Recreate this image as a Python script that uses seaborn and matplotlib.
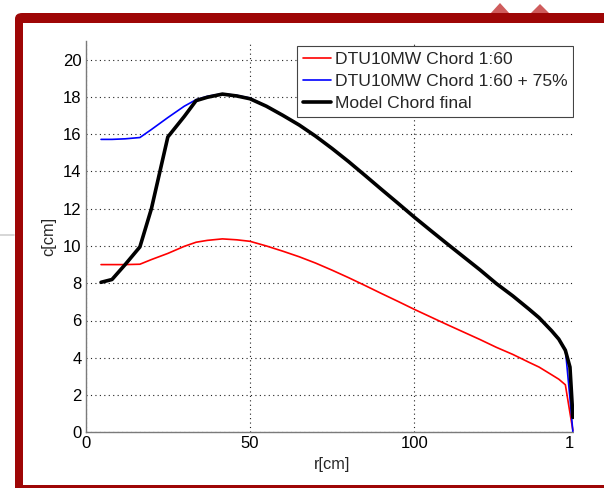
import matplotlib
matplotlib.use("Agg")
import matplotlib.pyplot as plt
from matplotlib.patches import Rectangle, FancyBboxPatch, Polygon
from matplotlib.lines import Line2D
import seaborn as sns
import pandas as pd

# ---- data ----
r_cm = [4.67, 8, 12, 16.5, 20, 25, 30, 33.6, 37, 41.6, 46, 50, 55, 60, 65, 70, 75,
        80, 85, 90, 95, 100, 105, 110, 115, 120, 125, 130, 135, 138, 141.8, 144,
        146, 147.4, 148.3]
chord_dtu = [9.0, 9.0, 9.0, 9.02, 9.27, 9.6, 9.98, 10.2, 10.3, 10.38, 10.33, 10.25,
             10.0, 9.72, 9.42, 9.08, 8.7, 8.3, 7.88, 7.45, 7.03, 6.6, 6.19, 5.78,
             5.38, 4.98, 4.56, 4.18, 3.75, 3.5, 3.09, 2.85, 2.55, 1.04, 0.1]
chord_dtu75 = [15.72, 15.72, 15.75, 15.82, 16.25, 16.89, 17.5, 17.85, 18.03, 18.17,
               18.08, 17.94, 17.5, 17.01, 16.49, 15.89, 15.23, 14.53, 13.79, 13.04,
               12.3, 11.55, 10.83, 10.12, 9.42, 8.72, 7.98, 7.32, 6.56, 6.13, 5.41,
               4.99, 4.46, 1.82, 0.0]
chord_model = [8.05, 8.2, 9.0, 9.95, 12.0, 15.85, 16.95, 17.8, 17.98, 18.15, 18.05,
               17.9, 17.5, 17.01, 16.49, 15.89, 15.23, 14.53, 13.79, 13.04, 12.3,
               11.55, 10.83, 10.12, 9.42, 8.72, 7.98, 7.32, 6.6, 6.15, 5.45, 5.0,
               4.4, 3.5, 0.8]
labels = ["DTU10MW Chord 1:60", "DTU10MW Chord 1:60 + 75%", "Model Chord final"]
x_ticks = [0, 50, 100, 150]
y_ticks = [0, 2, 4, 6, 8, 10, 12, 14, 16, 18, 20]

sns.set_style("white")
plt.rcParams["font.family"] = ["Liberation Sans", "DejaVu Sans"]

W, H = 604, 488
fig = plt.figure(figsize=(W / 100, H / 100), dpi=100)

def fx(px):
    return px / W

def fy(py):
    return 1 - py / H

# slide decoration above the frame (top right)
for pts in ([(490, 14), (500, 3), (510, 14)], [(530, 14), (540, 4), (550, 14)]):
    fig.add_artist(Polygon([(fx(a), fy(b)) for a, b in pts], closed=True,
                           transform=fig.transFigure, facecolor="#cf5c5c",
                           edgecolor="none", zorder=-4))
fig.add_artist(Line2D([0, fx(14)], [fy(235), fy(235)], transform=fig.transFigure,
                      color="#d0d0d0", linewidth=1.2, zorder=-4))

# slide frame (dark red) with white inside
outer = FancyBboxPatch((fx(15), fy(500)), fx(640) - fx(15), fy(13) - fy(500),
                       boxstyle="round,pad=0,rounding_size=0.012",
                       transform=fig.transFigure, facecolor="#9e0606",
                       edgecolor="none", zorder=-3)
fig.add_artist(outer)
inner = Rectangle((fx(22.7), fy(485)), fx(640) - fx(22.7), fy(22.5) - fy(485),
                  transform=fig.transFigure, facecolor="white", edgecolor="none",
                  zorder=-2)
fig.add_artist(inner)

ax_left, ax_right, ax_top, ax_bottom = 85.7, 578.5, 41, 432.3
ax = fig.add_axes([fx(ax_left), fy(ax_bottom), fx(ax_right) - fx(ax_left),
                   fy(ax_top) - fy(ax_bottom)])

df = pd.DataFrame({"r": r_cm * 3,
                   "c": chord_dtu + chord_dtu75 + chord_model,
                   "series": [labels[0]] * len(r_cm) + [labels[1]] * len(r_cm)
                   + [labels[2]] * len(r_cm)})
styles = {labels[0]: ("#ff0000", 1.2), labels[1]: ("#0000ff", 1.2),
          labels[2]: ("#000000", 2.6)}
for lab in labels:
    col, lw = styles[lab]
    sns.lineplot(data=df[df.series == lab], x="r", y="c", ax=ax, color=col,
                 linewidth=lw, label=lab, sort=False, estimator=None)

ax.set_xlim(0, 150)
ax.set_ylim(0, 21)
ax.set_xticks(x_ticks)
ax.set_yticks(y_ticks)
ax.grid(True, color="#222222", linestyle=(0, (1, 3)), linewidth=0.8)
for s in ["top", "right"]:
    ax.spines[s].set_visible(False)
for s in ["left", "bottom"]:
    ax.spines[s].set_color("#7a7a7a")
    ax.spines[s].set_linewidth(1.0)
ax.tick_params(direction="in", length=4, width=0.8, color="#7a7a7a",
               labelsize=12, pad=3, labelcolor="black")
ax.set_xlabel("r[cm]", fontsize=11.8, labelpad=4)
ax.set_ylabel("c[cm]", fontsize=11.8, labelpad=5)

leg = ax.legend(loc="upper right", bbox_to_anchor=(0.989, 0.987),
                fontsize=12.6, frameon=True, fancybox=False, framealpha=1,
                edgecolor="#444444", borderaxespad=0, handlelength=1.6,
                handletextpad=0.2, labelspacing=0.38, borderpad=0.34)
leg.get_frame().set_linewidth(0.8)

# the slide crops the right edge of the picture
crop = Rectangle((fx(573.5), fy(485)), fx(640) - fx(573.5), fy(22.5) - fy(485),
                 transform=fig.transFigure, facecolor="white", edgecolor="none",
                 zorder=10)
fig.add_artist(crop)

fig.savefig("out.png", dpi=100)
